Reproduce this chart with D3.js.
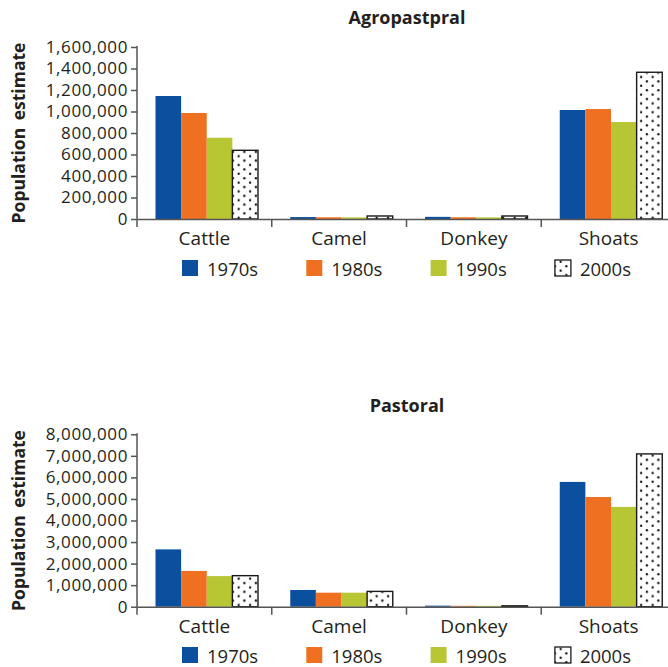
<!DOCTYPE html>
<html>
<head>
<meta charset="utf-8">
<script src="https://cdn.jsdelivr.net/npm/d3@7"></script>
<style>
  html, body { margin: 0; padding: 0; background: #fff; }
  svg { display: block; }
  text { font-family: "Open Sans", sans-serif; fill: #231f20; }
</style>
</head>
<body>
<svg id="chart" width="668" height="667"></svg>
<script>
// ---- data ----
const categories = ["Cattle", "Camel", "Donkey", "Shoats"];
const decades = ["1970s", "1980s", "1990s", "2000s"];

const agro1970 = [1144000, 18000, 20000, 1014000];
const agro1980 = [986000, 16000, 16000, 1023000];
const agro1990 = [756000, 15000, 15000, 902000];
const agro2000 = [639000, 28000, 28000, 1365000];

const past1970 = [2660000, 775000, 50000, 5790000];
const past1980 = [1660000, 650000, 40000, 5090000];
const past1990 = [1420000, 650000, 40000, 4630000];
const past2000 = [1440000, 710000, 40000, 7090000];

const agroTicks = [0, 200000, 400000, 600000, 800000, 1000000, 1200000, 1400000, 1600000];
const pastTicks = [0, 1000000, 2000000, 3000000, 4000000, 5000000, 6000000, 7000000, 8000000];

const colors = ["#0b4f9f", "#f07021", "#b9c634", "url(#dots)"];

// ---- drawing ----
const svg = d3.select("#chart");
const defs = svg.append("defs");
const pat = defs.append("pattern")
  .attr("id", "dots").attr("patternUnits", "userSpaceOnUse")
  .attr("width", 11.5).attr("height", 8.8);
pat.append("rect").attr("width", 11.5).attr("height", 8.8).attr("fill", "#fff");
pat.append("circle").attr("cx", 2.9).attr("cy", 2.2).attr("r", 1.15).attr("fill", "#111");
pat.append("circle").attr("cx", 8.65).attr("cy", 6.6).attr("r", 1.15).attr("fill", "#111");

const axisColor = "#555";

function panel(cfg) {
  const g = svg.append("g");
  const x = d3.scaleBand().domain(categories).range([137, 676]).paddingInner(0).paddingOuter(0);
  const xi = d3.scaleBand().domain(decades).range([18.5, 121]).padding(0);
  const y = d3.scaleLinear().domain([0, cfg.max]).range([cfg.y0, cfg.yTop]);

  // title
  g.append("text").attr("x", 407).attr("y", cfg.titleY)
    .attr("text-anchor", "middle").attr("font-weight", "bold")
    .attr("font-size", 18).text(cfg.title);

  // y axis title
  g.append("text")
    .attr("transform", `translate(25,${(cfg.y0 + cfg.yTop) / 2}) rotate(-90)`)
    .attr("text-anchor", "middle").attr("font-weight", "bold")
    .attr("font-size", 17.5).attr("word-spacing", 3).text("Population estimate");

  // bars
  cfg.series.forEach((vals, si) => {
    g.append("g").selectAll("rect").data(vals).join("rect")
      .attr("x", (d, i) => x(categories[i]) + xi(decades[si]))
      .attr("width", xi.bandwidth())
      .attr("y", d => y(d))
      .attr("height", d => cfg.y0 - y(d))
      .attr("fill", colors[si])
      .attr("stroke", si === 3 ? "#1a1a1a" : "none")
      .attr("stroke-width", si === 3 ? 1.4 : 0);
  });

  // y axis
  const ya = g.append("g").attr("transform", "translate(137,0)")
    .call(d3.axisLeft(y).tickValues(cfg.ticks).tickFormat(d3.format(",")).tickSize(6).tickPadding(3));
  ya.select(".domain").attr("stroke", axisColor).attr("stroke-width", 1.5)
    .attr("d", `M0,${cfg.yTop - 1}V${cfg.y0 + 8}`);
  ya.selectAll(".tick line").attr("stroke", axisColor).attr("stroke-width", 1.5);
  ya.selectAll(".tick text")
    .attr("font-size", 17).attr("letter-spacing", 0.6).attr("fill", "#231f20");

  // x axis
  const xa = g.append("g").attr("transform", `translate(0,${cfg.y0})`)
    .call(d3.axisBottom(x).tickSize(0).tickPadding(0));
  xa.select(".domain").attr("stroke", axisColor).attr("stroke-width", 1.5);
  xa.selectAll(".tick text").attr("font-size", 19).attr("fill", "#231f20")
    .attr("dy", 0).attr("y", cfg.catY - cfg.y0);
  g.append("g").selectAll("line").data(categories.slice(1)).join("line")
    .attr("x1", d => x(d)).attr("x2", d => x(d))
    .attr("y1", cfg.y0).attr("y2", cfg.y0 + 8)
    .attr("stroke", axisColor).attr("stroke-width", 1.5);

  // legend
  const lg = g.append("g");
  decades.forEach((d, i) => {
    const lx = 182 + i * 124.3;
    lg.append("rect").attr("x", lx).attr("y", cfg.legY)
      .attr("width", 16).attr("height", 16)
      .attr("fill", colors[i])
      .attr("stroke", i === 3 ? "#1a1a1a" : "none").attr("stroke-width", i === 3 ? 1.3 : 0);
    lg.append("text").attr("x", lx + 25).attr("y", cfg.legY + 15.5)
      .attr("font-size", 18.5).text(d);
  });
}

panel({
  title: "Agropastpral", titleY: 24,
  max: 1600000, y0: 219, yTop: 47, ticks: agroTicks,
  series: [agro1970, agro1980, agro1990, agro2000],
  catY: 245, legY: 260
});

panel({
  title: "Pastoral", titleY: 412,
  max: 8000000, y0: 606.7, yTop: 434.3, ticks: pastTicks,
  series: [past1970, past1980, past1990, past2000],
  catY: 633, legY: 647
});
</script>
</body>
</html>
